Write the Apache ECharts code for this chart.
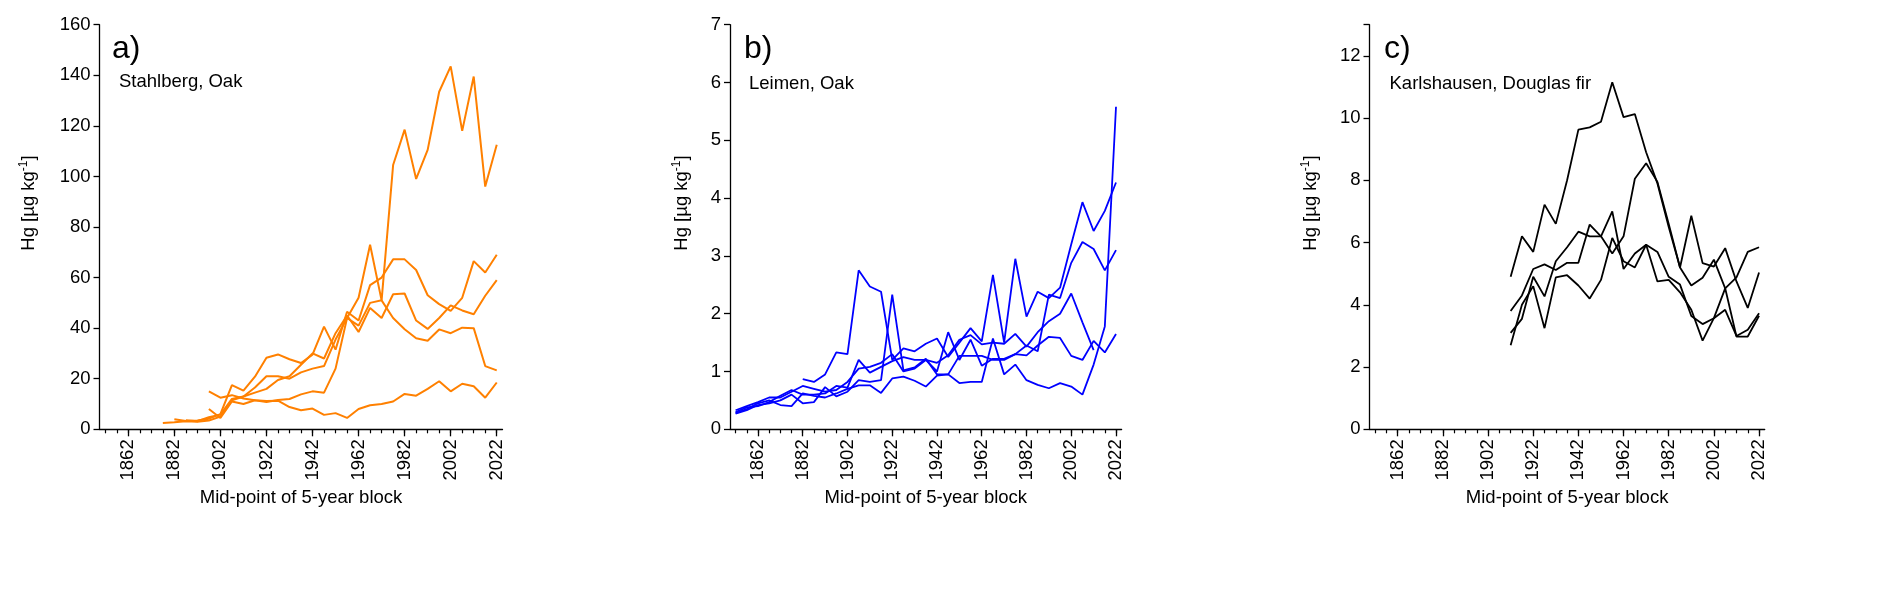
<!DOCTYPE html>
<html><head><meta charset="utf-8">
<script src="https://cdn.jsdelivr.net/npm/echarts@6/dist/echarts.min.js"></script>
<style>html,body{margin:0;padding:0;background:#fff}#c{width:1892px;height:616px}</style>
</head><body><div id="c"></div>
<script>
// ---- data ----
const years = ['1852','1857','1862','1867','1872','1877','1882','1887','1892','1897','1902','1907','1912','1917','1922','1927','1932','1937','1942','1947','1952','1957','1962','1967','1972','1977','1982','1987','1992','1997','2002','2007','2012','2017','2022'];
const xTickLabels = ['1862','1882','1902','1922','1942','1962','1982','2002','2022'];

const yTicksA = [0,20,40,60,80,100,120,140,160];
const yTicksB = [0,1,2,3,4,5,6,7];
const yTicksC = [0,2,4,6,8,10,12];

// a) Stahlberg, Oak
const stahlberg1 = [null,null,null,null,null,null,null,null,null,8,4.5,11,10,11.5,10.8,11.6,12,13.8,15,14.5,24,44,52,73,51,104.5,118.5,99,110.5,133.5,143.5,118,139.5,96,112.5];
const stahlberg2 = [null,null,null,null,null,null,4.0,3.3,3.5,4.2,6,17.5,15.3,20.8,28.3,29.6,27.7,26.2,29.5,40.6,31.5,46.5,43,57,60,67.2,67.2,63,53,49.5,46.8,52,66.5,62,69];
const stahlberg3 = [null,null,null,null,null,null,null,3.6,3.2,4.8,5.8,12,13,14.5,16,19.5,21,25.5,30,28,38,45,38.5,48,44,53.4,53.7,43,39.7,44,49,47,45.5,52.8,59];
const stahlberg4 = [null,null,null,null,null,2.5,2.8,3.2,3.0,3.5,5,11.5,13,16.5,21,21,20,22.5,24,25,35.5,44,41,50,51,44,39.6,36,35,39.5,38,40.2,40,25,23.3];
const stahlberg5 = [null,null,null,null,null,null,null,null,null,15,12.5,13.5,12.2,11.5,11.2,11.3,8.8,7.5,8.2,5.7,6.4,4.5,8,9.5,10,11,14,13.3,16,19,15,18,17,12.5,18.5];

// b) Leimen, Oak
const leimen1 = [0.28,0.35,0.45,0.5,0.42,0.4,0.62,0.58,0.55,0.62,0.7,0.76,0.76,0.63,0.88,0.91,0.84,0.74,0.93,0.95,0.8,0.82,0.82,1.57,0.95,1.12,0.85,0.77,0.71,0.8,0.74,0.6,1.12,1.78,5.58];
const leimen2 = [null,null,null,null,null,null,0.87,0.82,0.95,1.33,1.3,2.75,2.47,2.38,1.2,1.4,1.35,1.48,1.57,1.25,1.5,1.75,1.52,2.67,1.5,2.95,1.95,2.38,2.27,2.45,3.2,3.93,3.43,3.78,4.27];
const leimen3 = [0.33,0.4,0.47,0.55,0.55,0.65,0.75,0.7,0.65,0.68,0.82,1.05,1.08,1.15,1.3,1.0,1.05,1.2,1.0,1.68,1.2,1.55,1.1,1.22,1.22,1.3,1.45,1.35,2.33,2.27,2.88,3.24,3.12,2.75,3.1];
const leimen4 = [0.27,0.33,0.42,0.45,0.5,0.6,0.45,0.47,0.73,0.57,0.65,0.85,0.82,0.85,2.33,1.02,1.07,1.22,0.95,0.95,1.27,1.27,1.27,1.2,1.2,1.3,1.28,1.45,1.6,1.58,1.27,1.2,1.53,1.33,1.65];
const leimen5 = [0.3,0.38,0.4,0.47,0.58,0.68,0.6,0.6,0.62,0.75,0.72,1.2,0.98,1.08,1.18,1.25,1.2,1.2,1.15,1.28,1.55,1.63,1.47,1.5,1.48,1.65,1.43,1.68,1.87,2.0,2.35,1.85,1.37,null,null];

// c) Karlshausen, Douglas fir
const karls1 = [null,null,null,null,null,null,null,null,null,null,null,null,4.9,6.2,5.7,7.22,6.6,8.0,9.63,9.7,9.88,11.15,10.03,10.13,8.9,7.9,6.5,5.2,6.86,5.34,5.23,5.82,4.75,3.9,5.04];
const karls2 = [null,null,null,null,null,null,null,null,null,null,null,null,3.8,4.3,5.15,5.3,5.12,5.35,5.35,6.58,6.2,5.65,6.2,8.05,8.55,7.95,6.6,5.2,4.62,4.87,5.45,4.53,2.98,2.98,3.65];
const karls3 = [null,null,null,null,null,null,null,null,null,null,null,null,3.1,3.55,4.9,4.27,5.4,5.85,6.35,6.2,6.2,7.0,5.15,5.65,5.93,5.7,4.9,4.65,3.64,3.38,3.57,3.84,3.0,3.2,3.73];
const karls4 = [null,null,null,null,null,null,null,null,null,null,null,null,2.7,4.0,4.6,3.25,4.88,4.95,4.62,4.2,4.8,6.15,5.4,5.2,5.93,4.75,4.8,4.4,3.84,2.85,3.57,4.53,4.88,5.7,5.85];

// ---- layout / style ----
const FONT = "'Liberation Sans', Arial, Helvetica, sans-serif";
const FS = 18.5;
const TOP = 24.7, HEIGHT = 404.6;
const panels = [
  {left: 99.5, width: 403, yMax: 160, yTicks: yTicksA, nameGap: 60, color: '#FF8000', lw: 2,
   data: [stahlberg1, stahlberg2, stahlberg3, stahlberg4, stahlberg5],
   tag: 'a)', tagX: 112, site: 'Stahlberg, Oak', siteX: 119, siteY: 82},
  {left: 730, width: 391.6, yMax: 7, yTicks: yTicksB, nameGap: 37, color: '#0000FF', lw: 1.8,
   data: [leimen1, leimen2, leimen3, leimen4, leimen5],
   tag: 'b)', tagX: 744, site: 'Leimen, Oak', siteX: 749, siteY: 83.5},
  {left: 1369.5, width: 395.2, yMax: 13, yTicks: yTicksC, nameGap: 48, color: '#000000', lw: 1.8,
   data: [karls1, karls2, karls3, karls4],
   tag: 'c)', tagX: 1384, site: 'Karlshausen, Douglas fir', siteX: 1389.5, siteY: 83.5}
];

const grid = [], xAxis = [], yAxis = [], series = [], graphic = [];
const isMajor = (idx, val) => xTickLabels.indexOf(String(val)) >= 0;
const axisColor = '#000';

panels.forEach((p, i) => {
  grid.push({left: p.left, top: TOP, width: p.width, height: HEIGHT, containLabel: false});
  // major axis (labels + long ticks)
  xAxis.push({
    type: 'category', gridIndex: i, data: years, boundaryGap: true, position: 'bottom',
    axisLine: {show: true, lineStyle: {color: axisColor, width: 1.3}},
    axisTick: {show: true, alignWithLabel: true, interval: isMajor, length: 7, lineStyle: {color: axisColor, width: 1.3}},
    axisLabel: {show: true, interval: isMajor, rotate: 90, margin: 10, fontSize: FS, fontFamily: FONT, color: '#000'},
    splitLine: {show: false},
    name: 'Mid-point of 5-year block', nameLocation: 'middle', nameGap: 56,
    nameTextStyle: {fontSize: FS, fontFamily: FONT, color: '#000'}
  });
  // minor axis (short ticks at every block)
  xAxis.push({
    type: 'category', gridIndex: i, data: years, boundaryGap: true, position: 'bottom',
    axisLine: {show: false},
    axisTick: {show: true, alignWithLabel: true, interval: 0, length: 4, lineStyle: {color: axisColor, width: 1.2}},
    axisLabel: {show: false}, splitLine: {show: false}
  });
  yAxis.push({
    type: 'value', gridIndex: i, min: 0, max: p.yMax, interval: p.yTicks[1] - p.yTicks[0],
    axisLine: {show: true, lineStyle: {color: axisColor, width: 1.3}},
    axisTick: {show: true, length: 6, lineStyle: {color: axisColor, width: 1.3}},
    axisLabel: {show: true, margin: 9, fontSize: FS, fontFamily: FONT, color: '#000',
      formatter: v => (p.yTicks.indexOf(v) >= 0 ? String(v) : '')},
    splitLine: {show: false},
    name: '{n|Hg [µg kg}{s|-1}{n|]}', nameLocation: 'middle', nameRotate: 90, nameGap: p.nameGap,
    nameTextStyle: {fontSize: FS, fontFamily: FONT, color: '#000', padding: [0, 0, 0, 48],
      rich: {
        n: {fontSize: FS, fontFamily: FONT, color: '#000', lineHeight: 22},
        s: {fontSize: 12, fontFamily: FONT, color: '#000', verticalAlign: 'top', lineHeight: 12}
      }}
  });
  p.data.forEach((d, k) => {
    series.push({
      type: 'line', xAxisIndex: i * 2, yAxisIndex: i, data: d,
      showSymbol: false, symbol: 'none', connectNulls: false, silent: true,
      lineStyle: {color: p.color, width: p.lw}, itemStyle: {color: p.color},
      z: 2
    });
  });
  graphic.push({type: 'text', left: null, x: p.tagX, y: 49.5, silent: true,
    style: {text: p.tag, font: '32px ' + FONT, fill: '#000', textAlign: 'left', textVerticalAlign: 'middle'}});
  graphic.push({type: 'text', x: p.siteX, y: p.siteY, silent: true,
    style: {text: p.site, font: FS + 'px ' + FONT, fill: '#000', textAlign: 'left', textVerticalAlign: 'middle'}});
});

const chart = echarts.init(document.getElementById('c'), null, {renderer: 'canvas'});
chart.setOption({
  animation: false,
  backgroundColor: '#fff',
  grid, xAxis, yAxis, series, graphic
});
</script>
</body></html>
